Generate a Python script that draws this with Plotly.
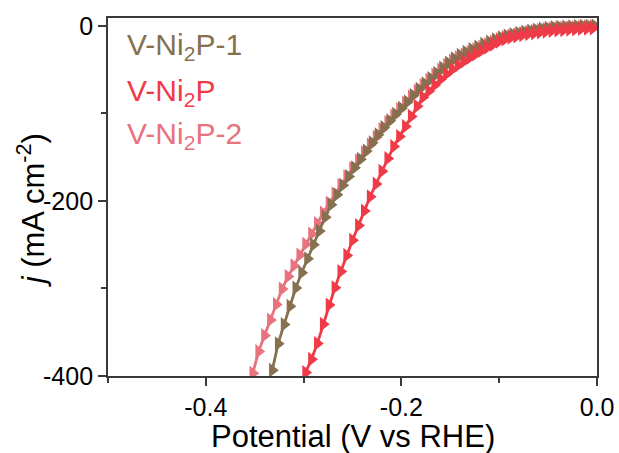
import plotly.graph_objects as go

# ---------------- data ----------------
names = ["V-Ni<sub>2</sub>P-1", "V-Ni<sub>2</sub>P", "V-Ni<sub>2</sub>P-2"]
colors = ["#86704F", "#EF3B47", "#E8727D"]

# V-Ni2P-1 (brown)
v_ni2p_1 = [-0.332, -0.326, -0.320, -0.314, -0.308, -0.302, -0.296, -0.290, -0.284, -0.278,
            -0.272, -0.266, -0.260, -0.254, -0.248, -0.242, -0.236, -0.230, -0.224, -0.218,
            -0.212, -0.206, -0.200, -0.194, -0.188, -0.182, -0.176, -0.170, -0.164, -0.158,
            -0.152, -0.146, -0.140, -0.134, -0.128, -0.122, -0.116, -0.110, -0.104, -0.098,
            -0.092, -0.086, -0.080, -0.074, -0.068, -0.062, -0.056, -0.050, -0.044, -0.038,
            -0.032, -0.026, -0.020, -0.014, -0.008, -0.002]
j_ni2p_1 = [-393.3, -363.1, -341.3, -320.2, -299.5, -282.1, -266.0, -250.0, -234.3, -218.5,
            -204.3, -193.0, -182.0, -172.0, -162.0, -152.5, -143.0, -133.5, -124.5, -116.0,
            -108.5, -101.0, -94.0, -87.0, -79.5, -72.5, -66.0, -60.0, -54.0, -48.0,
            -42.3, -37.5, -33.5, -30.0, -27.0, -24.0, -21.0, -18.5, -16.0, -13.5,
            -11.5, -10.0, -8.5, -7.0, -5.8, -4.7, -3.6, -2.7, -2.0, -1.6,
            -1.3, -1.0, -0.8, -0.5, -0.3, -0.1]

# V-Ni2P (red)
v_ni2p = [-0.298, -0.292, -0.286, -0.280, -0.274, -0.268, -0.262, -0.256, -0.250, -0.244,
          -0.238, -0.232, -0.226, -0.220, -0.214, -0.208, -0.202, -0.196, -0.190, -0.184,
          -0.178, -0.172, -0.166, -0.160, -0.154, -0.148, -0.142, -0.136, -0.130, -0.124,
          -0.118, -0.112, -0.106, -0.100, -0.094, -0.088, -0.082, -0.076, -0.070, -0.064,
          -0.058, -0.052, -0.046, -0.040, -0.034, -0.028, -0.022, -0.016, -0.010, -0.004]
j_ni2p = [-396.0, -381.0, -363.0, -341.0, -319.0, -299.2, -280.7, -262.2, -244.9, -228.2,
          -211.4, -195.2, -180.6, -166.0, -151.4, -137.9, -126.4, -114.9, -103.4, -91.9,
          -81.5, -74.5, -67.5, -61.0, -55.0, -49.5, -45.0, -40.5, -36.0, -32.0,
          -28.0, -24.5, -21.0, -17.5, -15.0, -13.0, -11.5, -10.0, -9.0, -8.0,
          -7.0, -6.0, -5.3, -4.8, -4.3, -3.9, -3.5, -3.1, -2.8, -2.5]

# V-Ni2P-2 (pink)
v_ni2p_2 = [-0.352, -0.346, -0.340, -0.334, -0.328, -0.322, -0.316, -0.310, -0.304, -0.298,
            -0.292, -0.286, -0.280, -0.274, -0.268, -0.262, -0.256, -0.250, -0.244, -0.238,
            -0.232, -0.226, -0.220, -0.214, -0.208, -0.202, -0.196, -0.190, -0.184, -0.178,
            -0.172, -0.166, -0.160, -0.154, -0.148, -0.142, -0.136, -0.130, -0.124, -0.118,
            -0.112, -0.106, -0.100, -0.094, -0.088, -0.082, -0.076, -0.070, -0.064, -0.058,
            -0.052, -0.046, -0.040, -0.034, -0.028, -0.022, -0.016, -0.010, -0.004]
j_ni2p_2 = [-396.9, -372.1, -353.7, -336.0, -318.3, -300.7, -286.4, -274.1, -261.8, -249.6,
            -237.7, -225.7, -213.8, -202.5, -192.0, -182.0, -172.5, -163.0, -154.0, -145.0,
            -136.0, -127.2, -118.5, -110.5, -103.0, -95.5, -88.0, -81.0, -74.5, -68.2,
            -62.0, -56.2, -50.5, -45.0, -40.2, -36.5, -33.0, -30.0, -27.0, -24.0,
            -21.3, -18.5, -15.5, -13.3, -11.6, -10.0, -8.6, -7.3, -6.1, -5.0,
            -4.0, -3.2, -2.8, -2.5, -2.1, -1.8, -1.4, -1.1, -0.7]

x_ticks = [-0.4, -0.2, 0.0]
x_ticktext = ["-0.4", "-0.2", "0.0"]
y_ticks = [0, -200, -400]
y_ticktext = ["0", "-200", "-400"]
x_label = "Potential (V vs RHE)"
y_label = "<i>j</i> (mA cm<sup>-2</sup>)"

series_x = [v_ni2p_1, v_ni2p, v_ni2p_2]
series_y = [j_ni2p_1, j_ni2p, j_ni2p_2]

# ---------------- figure ----------------
FONT = "Liberation Sans, Arial, sans-serif"
AXC = "#3a3a3a"

fig = go.Figure()
# draw pink first, brown, then red on top
for idx in [2, 0, 1]:
    fig.add_trace(go.Scatter(
        x=series_x[idx], y=series_y[idx], mode="lines+markers",
        line=dict(color=colors[idx], width=2.8),
        marker=dict(symbol="triangle-right", size=13, color=colors[idx], line=dict(width=0)),
        name=names[idx], showlegend=False, cliponaxis=True,
    ))

legend_y = [0.919, 0.793, 0.673]
for name, col, ly in zip(names, colors, legend_y):
    fig.add_annotation(
        x=0.035, y=ly, xref="paper", yref="paper", xanchor="left", yanchor="middle",
        text=name, showarrow=False, font=dict(family=FONT, size=30, color=col),
    )

# axis titles placed as annotations
fig.add_annotation(
    x=-0.158, y=0.462, xref="paper", yref="paper", xanchor="center", yanchor="middle",
    text=y_label, textangle=-90, showarrow=False,
    font=dict(family=FONT, size=31, color="black"),
)
fig.add_annotation(
    x=0.5, y=-0.168, xref="paper", yref="paper", xanchor="center", yanchor="middle",
    text=x_label, showarrow=False,
    font=dict(family=FONT, size=31, color="black"),
)

fig.update_layout(
    width=619, height=453,
    margin=dict(l=108, r=22, t=18, b=77),
    paper_bgcolor="white", plot_bgcolor="white",
    font=dict(family=FONT, color="black"),
)
fig.update_xaxes(
    range=[-0.5, 0.0], tickvals=x_ticks, ticktext=x_ticktext, automargin=False,
    ticks="outside", ticklen=8, tickwidth=1.5, tickcolor=AXC,
    minor=dict(tickvals=[-0.5, -0.3, -0.1], ticks="outside", ticklen=5, tickwidth=1.5, tickcolor=AXC),
    showline=True, linecolor=AXC, linewidth=1.8, mirror=True,
    showgrid=False, zeroline=False,
    tickfont=dict(family=FONT, size=25, color="black"),
)
fig.update_yaxes(
    range=[-400, 9], tickvals=y_ticks, ticktext=y_ticktext, automargin=False,
    ticks="outside", ticklen=8, tickwidth=1.5, tickcolor=AXC,
    minor=dict(tickvals=[-100, -300], ticks="outside", ticklen=5, tickwidth=1.5, tickcolor=AXC),
    showline=True, linecolor=AXC, linewidth=1.8, mirror=True,
    showgrid=False, zeroline=False,
    tickfont=dict(family=FONT, size=25, color="black"),
)

fig.write_html("out.html")
